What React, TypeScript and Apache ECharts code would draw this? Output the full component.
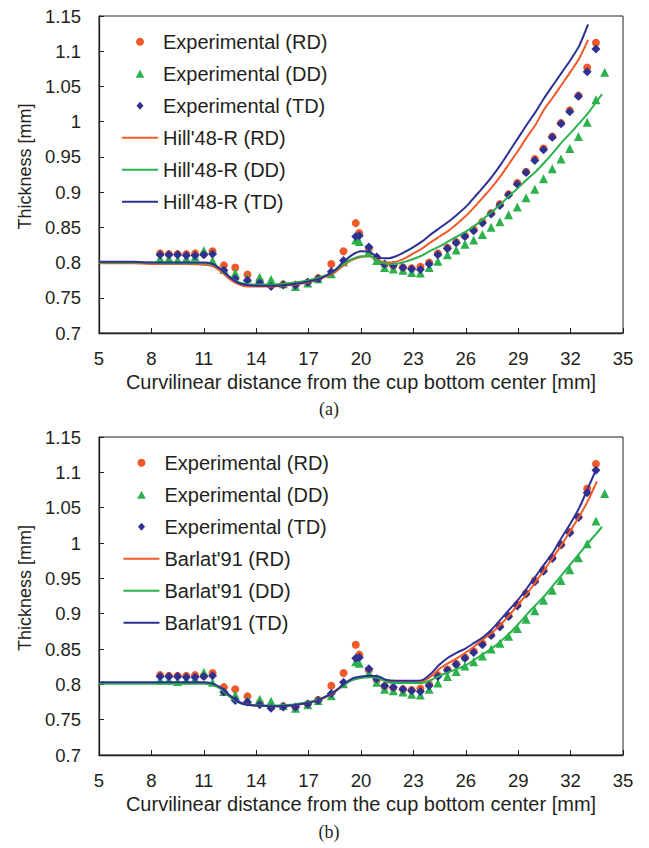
import React, { useEffect, useRef } from "react";
import * as echarts from "echarts";

// ---- Experimental points (shared by both panels) ----
const xExp = [8.5, 9.0, 9.5, 10.0, 10.5, 11.0, 11.5,
  12.15, 12.8, 13.5, 14.2, 14.85, 15.55, 16.25, 16.95, 17.55, 18.3,
  19.0, 19.7, 19.9, 20.45, 20.9, 21.35, 21.85, 22.4, 22.9, 23.4,
  23.9, 24.4, 24.95, 25.45, 25.95, 26.45, 26.95, 27.45, 27.95, 28.45,
  28.95, 29.45, 29.95, 30.45, 30.95, 31.45, 31.95, 32.45, 32.95, 33.45,
  33.95];
const expRD = [0.813, 0.812, 0.812, 0.812, 0.813, 0.812, 0.816,
  0.796, 0.793, 0.783, 0.774, 0.768, 0.769, 0.768, 0.772, 0.778, 0.798,
  0.816, 0.856, 0.842, 0.820, 0.806, 0.797, 0.795, 0.793, 0.792, 0.794,
  0.800, 0.813, 0.821, 0.829, 0.838, 0.847, 0.858, 0.870, 0.883, 0.897,
  0.913, 0.929, 0.947, 0.962, 0.979, 0.998, 1.016, 1.037, 1.077, 1.112,
  null];
const expDD = [0.806, 0.806, 0.804, 0.806, 0.808, 0.817, 0.803,
  0.790, 0.785, 0.778, 0.779, 0.776, 0.770, 0.766, 0.771, 0.777, 0.784,
  0.801, 0.832, 0.830, 0.816, 0.803, 0.793, 0.791, 0.789, 0.786, 0.785,
  0.793, 0.802, 0.811, 0.818, 0.826, 0.832, 0.840, 0.850, 0.858, 0.868,
  0.879, 0.892, 0.904, 0.919, 0.933, 0.947, 0.962, 0.979, 0.999, 1.031,
  1.070];
const expTD = [0.811, 0.811, 0.811, 0.810, 0.810, 0.811, 0.812,
  0.789, 0.777, 0.775, 0.771, 0.766, 0.768, 0.768, 0.772, 0.777, 0.787,
  0.803, 0.837, 0.838, 0.822, 0.808, 0.798, 0.796, 0.793, 0.791, 0.790,
  0.798, 0.811, 0.820, 0.828, 0.837, 0.845, 0.856, 0.869, 0.881, 0.896,
  0.911, 0.928, 0.945, 0.960, 0.978, 0.997, 1.014, 1.036, 1.071, 1.103,
  null];

// ---- Simulated curves ----
const xLine = [5, 6, 7, 8, 9, 10, 11, 11.5, 12, 12.5, 13, 13.5, 14, 15, 16, 17,
  17.5, 18, 18.5, 19, 19.5, 20, 20.5, 21, 21.5, 22, 22.5, 23, 23.5, 24, 24.5,
  25, 25.5, 26, 26.5, 27, 27.5, 28, 28.5, 29, 29.5, 30, 30.5, 31, 31.5, 32,
  32.5, 33, 33.5, 33.8];

const hillRD = [0.799, 0.799, 0.799, 0.798, 0.798, 0.798, 0.797, 0.795, 0.787, 0.776, 0.769, 0.766, 0.766, 0.766, 0.768, 0.772,
  0.776, 0.780, 0.786, 0.796, 0.804, 0.808, 0.809, 0.803, 0.800, 0.801, 0.806, 0.813, 0.820, 0.829, 0.837,
  0.845, 0.855, 0.866, 0.879, 0.893, 0.907, 0.923, 0.941, 0.959, 0.978, 0.996, 1.018, 1.035, 1.053, 1.071,
  1.090, 1.116, null, null];
const hillDD = [0.800, 0.800, 0.800, 0.800, 0.799, 0.799, 0.799, 0.797, 0.790, 0.779, 0.772, 0.769, 0.769, 0.769, 0.771, 0.775,
  0.778, 0.782, 0.788, 0.798, 0.805, 0.809, 0.809, 0.802, 0.798, 0.798, 0.801, 0.805, 0.810, 0.817, 0.823,
  0.830, 0.837, 0.844, 0.852, 0.862, 0.872, 0.883, 0.895, 0.906, 0.918, 0.929, 0.942, 0.956, 0.971, 0.984,
  0.998, 1.012, 1.029, 1.039];
const hillTD = [0.801, 0.801, 0.801, 0.800, 0.800, 0.800, 0.800, 0.798, 0.790, 0.779, 0.771, 0.768, 0.767, 0.767, 0.769, 0.773,
  0.776, 0.781, 0.789, 0.801, 0.811, 0.816, 0.815, 0.807, 0.806, 0.809, 0.815, 0.822, 0.830, 0.840, 0.849,
  0.858, 0.868, 0.879, 0.893, 0.907, 0.922, 0.939, 0.958, 0.977, 0.996, 1.014, 1.034, 1.052, 1.070, 1.088,
  1.108, 1.138, null, null];

const barRD = [0.802, 0.802, 0.802, 0.802, 0.802, 0.802, 0.802, 0.800, 0.794, 0.783, 0.775, 0.771, 0.770, 0.769, 0.770, 0.774,
  0.777, 0.782, 0.789, 0.799, 0.807, 0.810, 0.811, 0.810, 0.804, 0.803, 0.803, 0.803, 0.804, 0.811, 0.822,
  0.830, 0.837, 0.845, 0.854, 0.864, 0.873, 0.885, 0.898, 0.913, 0.928, 0.945, 0.962, 0.980, 0.998, 1.018,
  1.038, 1.060, 1.087, null];
const barDD = [0.801, 0.801, 0.801, 0.801, 0.801, 0.801, 0.801, 0.799, 0.793, 0.782, 0.774, 0.771, 0.770, 0.770, 0.771, 0.775,
  0.778, 0.783, 0.790, 0.799, 0.806, 0.809, 0.810, 0.809, 0.803, 0.802, 0.802, 0.802, 0.802, 0.806, 0.812,
  0.817, 0.822, 0.827, 0.835, 0.843, 0.851, 0.861, 0.872, 0.885, 0.899, 0.912, 0.925, 0.940, 0.955, 0.970,
  0.985, 1.000, 1.014, 1.023];
const barTD = [0.803, 0.803, 0.803, 0.803, 0.803, 0.803, 0.803, 0.801, 0.795, 0.784, 0.775, 0.771, 0.770, 0.769, 0.770, 0.774,
  0.777, 0.783, 0.790, 0.800, 0.808, 0.811, 0.812, 0.811, 0.806, 0.805, 0.805, 0.805, 0.806, 0.815, 0.828,
  0.838, 0.845, 0.851, 0.859, 0.867, 0.878, 0.892, 0.906, 0.920, 0.936, 0.953, 0.970, 0.987, 1.008, 1.028,
  1.050, 1.078, 1.106, null];

const expNames = ["Experimental (RD)", "Experimental (DD)", "Experimental (TD)"];
const hillNames = ["Hill'48-R (RD)", "Hill'48-R (DD)", "Hill'48-R (TD)"];
const barNames = ["Barlat'91 (RD)", "Barlat'91 (DD)", "Barlat'91 (TD)"];
const xTitle = "Curvilinear distance from the cup bottom center [mm]";
const yTitle = "Thickness [mm]";
const panelLabels = ["(a)", "(b)"];

const C_RD = "#f05a28";
const C_DD = "#2bb24c";
const C_TD = "#2e3192";
const INK = "#231f20";
const FONT = "'Liberation Sans', Arial, sans-serif";

function pairs(xs: number[], ys: (number | null)[]) {
  const out: [number, number][] = [];
  xs.forEach((x, i) => {
    const y = ys[i];
    if (y !== null && y !== undefined) out.push([x, y]);
  });
  return out;
}
function linePairs(xs: number[], ys: (number | null)[]) {
  return xs.map((x, i) => [x, ys[i]]);
}

export default function App() {
  const ref = useRef<HTMLDivElement>(null);
  useEffect(() => {
    if (!ref.current) return;
    const chart = echarts.init(ref.current, undefined, { renderer: "svg" });

    const grids = [
      { left: 99, top: 16, width: 524, height: 317 },
      { left: 99, top: 437, width: 524, height: 318 },
    ];
    const axisLine = { show: true, onZero: false, lineStyle: { color: INK, width: 1.3 } };
    const xAxes = grids.map((_, gi) => ({
      gridIndex: gi,
      type: "value",
      min: 5,
      max: 35,
      interval: 3,
      axisLine,
      axisTick: { show: true, inside: true, length: 5, lineStyle: { color: INK } },
      axisLabel: { margin: 16, fontSize: 18.5, color: INK, fontFamily: FONT },
      splitLine: { show: false },
      name: xTitle,
      nameLocation: "middle",
      nameGap: 39,
      nameTextStyle: { fontSize: 20, color: INK, fontFamily: FONT },
    }));
    const yAxes = grids.map((_, gi) => ({
      gridIndex: gi,
      type: "value",
      min: 0.7,
      max: 1.15,
      interval: 0.05,
      axisLine,
      axisTick: { show: true, inside: true, length: 5, lineStyle: { color: INK } },
      axisLabel: { margin: 18, fontSize: 18.5, color: INK, fontFamily: FONT },
      splitLine: { show: false },
      name: yTitle,
      nameLocation: "middle",
      nameGap: 65,
      nameTextStyle: { fontSize: 18, color: INK, fontFamily: FONT, padding: [0, 0, 0, 16] },
    }));

    const modelSets = [
      { names: hillNames, data: [hillRD, hillDD, hillTD] },
      { names: barNames, data: [barRD, barDD, barTD] },
    ];
    const colors = [C_RD, C_DD, C_TD];
    const symbols = ["circle", "triangle", "diamond"];
    const symSizes = [8, 9, 9];
    const expData = [expRD, expDD, expTD];

    const series: any[] = [];
    grids.forEach((_, gi) => {
      expData.forEach((ys, k) => {
        series.push({
          type: "scatter",
          name: expNames[k],
          xAxisIndex: gi,
          yAxisIndex: gi,
          data: pairs(xExp, ys),
          symbol: symbols[k],
          symbolSize: symSizes[k],
          itemStyle: { color: colors[k], borderWidth: 0, opacity: 1 },
        });
      });
      modelSets[gi].data.forEach((ys, k) => {
        series.push({
          type: "line",
          name: modelSets[gi].names[k],
          xAxisIndex: gi,
          yAxisIndex: gi,
          data: linePairs(xLine, ys),
          showSymbol: false,
          symbol: "none",
          smooth: 0.25,
          lineStyle: { color: colors[k], width: 2 },
          itemStyle: { color: colors[k] },
        });
      });
    });

    const lineIcon = "path://M0 0H36V2H0Z";
    const expIcons = [
      "circle",
      "path://M4 0L8 7.5H0Z",
      "path://M4 0L8 4.5L4 9L0 4.5Z",
    ];
    const legends = grids.map((g, gi) => ({
      orient: "vertical",
      left: gi === 0 ? 122 : 123.5,
      top: g.top + 15.7,
      padding: 0,
      itemWidth: 36,
      itemHeight: 8,
      itemGap: 12,
      symbolKeepAspect: true,
      textStyle: { fontSize: 20, color: INK, fontFamily: FONT, lineHeight: 20 },
      data: [
        ...expNames.map((n, k) => ({ name: n, icon: expIcons[k] })),
        ...modelSets[gi].names.map((n) => ({ name: n, icon: lineIcon })),
      ],
      selectedMode: false,
    }));

    chart.setOption({
      animation: false,
      backgroundColor: "#ffffff",
      grid: grids.map((g) => ({
        ...g,
        show: true,
        borderColor: INK,
        borderWidth: 1,
        backgroundColor: "transparent",
      })),
      xAxis: xAxes,
      yAxis: yAxes,
      legend: legends,
      series,
      graphic: panelLabels.map((t, i) => ({
        type: "text",
        x: 329,
        y: i === 0 ? 409 : 832,
        style: {
          text: t,
          fontSize: 18,
          fontFamily: "'Liberation Serif', 'Times New Roman', serif",
          fill: INK,
          align: "center",
          verticalAlign: "middle",
        },
      })),
    });
    return () => chart.dispose();
  }, []);
  return (
    <div
      ref={ref}
      style={{ position: "absolute", left: 0, top: 0, width: 649, height: 848 }}
    />
  );
}
